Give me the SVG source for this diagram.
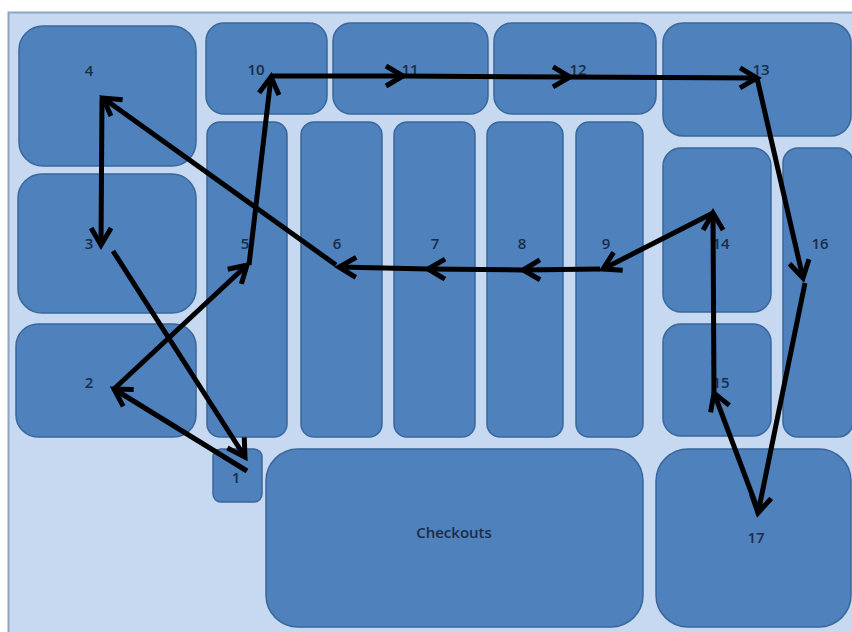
<svg xmlns="http://www.w3.org/2000/svg" width="852" height="632" viewBox="0 0 852 632">
  <style>
    .box { fill: #4f81bd; stroke: #3a679b; stroke-width: 1.5; }
    .lbl { font-family: "Open Sans", "Liberation Sans", sans-serif; font-size: 15px; font-weight: 600; fill: #1a2d47; text-anchor: middle; dominant-baseline: central; }
    .path { fill: none; stroke: #000; stroke-width: 5; stroke-linecap: butt; }
  </style>
  <defs>
    <marker id="head" markerUnits="userSpaceOnUse" markerWidth="40" markerHeight="40" viewBox="-20 -20 40 40" refX="0" refY="0" orient="auto" overflow="visible">
      <path d="M-17,-10 L0,0 L-17,10" fill="none" stroke="#000" stroke-width="5" stroke-linejoin="miter"/>
    </marker>
  </defs>

  <rect width="852" height="632" fill="#ffffff"/>
  <!-- store floor -->
  <rect x="8.5" y="12.5" width="860" height="640" fill="#c6d9f1" stroke="#8da4c4" stroke-width="2"/>

  <g id="aisle-4"><rect class="box" x="19" y="26" width="177" height="140" rx="24"/><text class="lbl" x="89" y="70">4</text></g>
  <g id="aisle-3"><rect class="box" x="18" y="174" width="178" height="139" rx="24"/><text class="lbl" x="89" y="243">3</text></g>
  <g id="aisle-2"><rect class="box" x="16" y="324" width="180" height="113" rx="22"/><text class="lbl" x="89" y="382">2</text></g>
  <g id="aisle-10"><rect class="box" x="206" y="23" width="121" height="91" rx="18"/><text class="lbl" x="256" y="69">10</text></g>
  <g id="aisle-11"><rect class="box" x="333" y="23" width="155" height="91" rx="18"/><text class="lbl" x="410" y="69">11</text></g>
  <g id="aisle-12"><rect class="box" x="494" y="23" width="162" height="91" rx="18"/><text class="lbl" x="578" y="69">12</text></g>
  <g id="aisle-13"><rect class="box" x="663" y="23" width="188" height="113" rx="20"/><text class="lbl" x="761" y="69">13</text></g>
  <g id="aisle-5"><rect class="box" x="207" y="122" width="80" height="315" rx="13"/><text class="lbl" x="245" y="243">5</text></g>
  <g id="aisle-6"><rect class="box" x="301" y="122" width="81" height="315" rx="13"/><text class="lbl" x="337" y="243">6</text></g>
  <g id="aisle-7"><rect class="box" x="394" y="122" width="81" height="315" rx="13"/><text class="lbl" x="435" y="243">7</text></g>
  <g id="aisle-8"><rect class="box" x="487" y="122" width="76" height="315" rx="13"/><text class="lbl" x="522" y="243">8</text></g>
  <g id="aisle-9"><rect class="box" x="576" y="122" width="67" height="315" rx="13"/><text class="lbl" x="606" y="243">9</text></g>
  <g id="aisle-14"><rect class="box" x="663" y="148" width="108" height="164" rx="18"/><text class="lbl" x="721" y="243">14</text></g>
  <g id="aisle-15"><rect class="box" x="663" y="324" width="108" height="112" rx="18"/><text class="lbl" x="721" y="382">15</text></g>
  <g id="aisle-16"><rect class="box" x="783" y="148" width="70" height="289" rx="15"/><text class="lbl" x="820" y="243">16</text></g>
  <g id="entrance-1"><rect class="box" x="213" y="449" width="49" height="53" rx="8"/><text class="lbl" x="236" y="477">1</text></g>
  <g id="checkouts"><rect class="box" x="266" y="449" width="377" height="178" rx="32"/><text class="lbl" x="454" y="532">Checkouts</text></g>
  <g id="aisle-17"><rect class="box" x="656" y="449" width="195" height="178" rx="32"/><text class="lbl" x="756" y="537">17</text></g>

  <!-- shopper route -->
  <g id="route">
    <line class="path" x1="247" y1="471" x2="114" y2="389" marker-end="url(#head)"/>
    <line class="path" x1="114" y1="389" x2="247" y2="265" marker-end="url(#head)"/>
    <line class="path" x1="249" y1="265" x2="271" y2="77" marker-end="url(#head)"/>
    <line class="path" x1="271" y1="76" x2="403" y2="76" marker-end="url(#head)"/>
    <line class="path" x1="403" y1="76" x2="570" y2="77" marker-end="url(#head)"/>
    <line class="path" x1="570" y1="77" x2="757" y2="78" marker-end="url(#head)"/>
    <line class="path" x1="757" y1="78" x2="803" y2="278" marker-end="url(#head)"/>
    <line class="path" x1="805" y1="283" x2="758" y2="513" marker-end="url(#head)"/>
    <line class="path" x1="756" y1="505" x2="714" y2="393" marker-end="url(#head)"/>
    <line class="path" x1="714" y1="393" x2="713" y2="213" marker-end="url(#head)"/>
    <line class="path" x1="713" y1="213" x2="603" y2="269" marker-end="url(#head)"/>
    <line class="path" x1="600" y1="269" x2="523" y2="270" marker-end="url(#head)"/>
    <line class="path" x1="523" y1="270" x2="428" y2="269" marker-end="url(#head)"/>
    <line class="path" x1="428" y1="269" x2="339" y2="267" marker-end="url(#head)"/>
    <line class="path" x1="336" y1="265" x2="103" y2="98" marker-end="url(#head)"/>
    <line class="path" x1="102" y1="98" x2="101" y2="245" marker-end="url(#head)"/>
    <line class="path" x1="113" y1="251" x2="245" y2="457" marker-end="url(#head)"/>
  </g>
</svg>
